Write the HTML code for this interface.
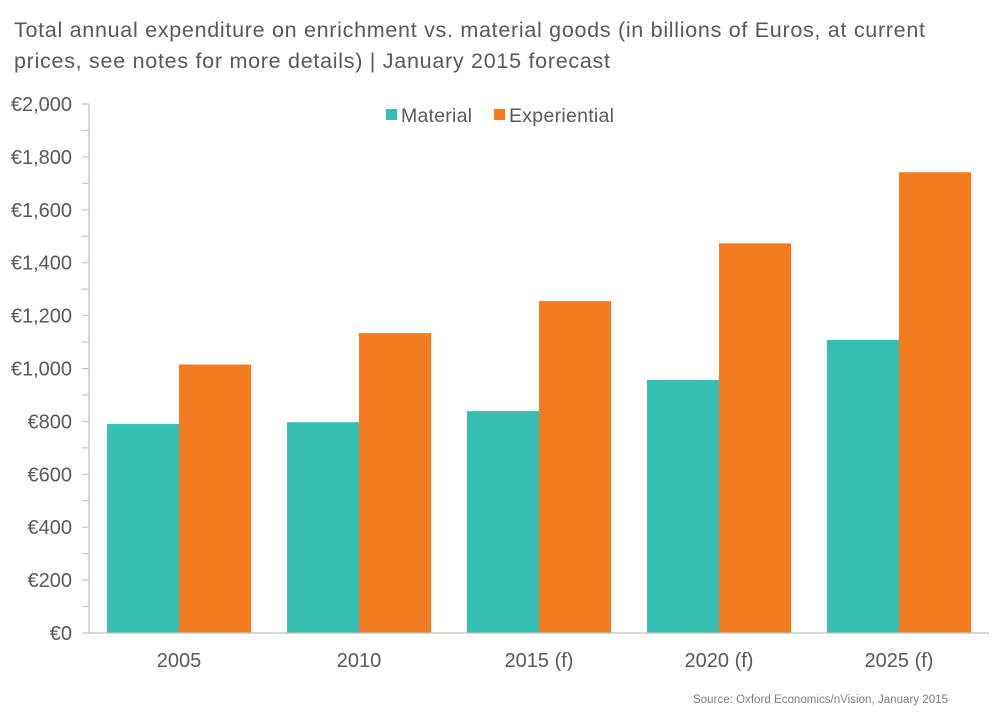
<!DOCTYPE html>
<html><head><meta charset="utf-8"><style>
body{margin:0;background:#fff;width:1000px;height:716px;overflow:hidden;font-family:"Liberation Sans",sans-serif}
</style></head><body>
<svg width="1000" height="716" font-family="Liberation Sans, sans-serif">
<text x="14" y="37" font-size="21.5" fill="#595959" textLength="911" lengthAdjust="spacing">Total annual expenditure on enrichment vs. material goods (in billions of Euros, at current</text>
<text x="14" y="68" font-size="21.5" fill="#595959" textLength="596" lengthAdjust="spacing">prices, see notes for more details) | January 2015 forecast</text>
<g id="plot"></g>
<g>
<rect x="386" y="109" width="11" height="11" fill="#36BFB3"/>
<text x="401" y="122" font-size="19.5" fill="#595959" textLength="71">Material</text>
<rect x="494" y="109" width="11" height="11" fill="#F47B20"/>
<text x="509" y="122" font-size="19.5" fill="#595959" textLength="105">Experiential</text>
</g>
<text x="948" y="703" font-size="11.5" fill="#7f7f7f" text-anchor="end" textLength="255">Source: Oxford Economics/nVision, January 2015</text>
</svg>
<script>
const categories=["2005","2010","2015 (f)","2020 (f)","2025 (f)"];
const materialValues=[790,797,839,957,1108];
const experientialValues=[1015,1134,1255,1473,1742];
const yTicks=[0,200,400,600,800,1000,1200,1400,1600,1800,2000];
const yTickLabels=["€0","€200","€400","€600","€800","€1,000","€1,200","€1,400","€1,600","€1,800","€2,000"];
const NS="http://www.w3.org/2000/svg";
const g=document.getElementById('plot');
const x0=89,x1=989,yTop=104,yBot=633,yMax=2000;
const y=v=>yBot-(v/yMax)*(yBot-yTop);
const band=(x1-x0)/categories.length;
const bw=72;
function mk(t,a){const e=document.createElementNS(NS,t);for(const k in a)e.setAttribute(k,a[k]);g.appendChild(e);return e;}
categories.forEach((c,i)=>{
  const cx=x0+band*i+band/2;
  const r1=mk('rect',{x:cx-bw,y:y(materialValues[i]),width:bw,height:yBot-y(materialValues[i]),fill:'#36BFB3'});
  
  
  const r2=mk('rect',{x:cx,y:y(experientialValues[i]),width:bw,height:yBot-y(experientialValues[i]),fill:'#F47B20'});
  
  
  const t=mk('text',{x:cx,y:667,'font-size':20,fill:'#595959','text-anchor':'middle'});
  t.textContent=c;
  
  
});
for(let v=0;v<=yMax;v+=100){
  const tk=mk('line',{x1:x0-7,x2:x0,y1:y(v),y2:y(v),stroke:'#bfbfbf','stroke-width':1});
  
  
}
yTicks.forEach((v,i)=>{
  const t=mk('text',{x:72,y:y(v)+7,'font-size':20,fill:'#595959','text-anchor':'end'});
  t.textContent=yTickLabels[i];
  
  
});
const ax=mk('line',{x1:x0,x2:x0,y1:yTop,y2:yBot,stroke:'#bfbfbf','stroke-width':1.3});


const bx=mk('line',{x1:x0,x2:x1,y1:yBot,y2:yBot,stroke:'#bfbfbf','stroke-width':1.3});


</script>
</body></html>
